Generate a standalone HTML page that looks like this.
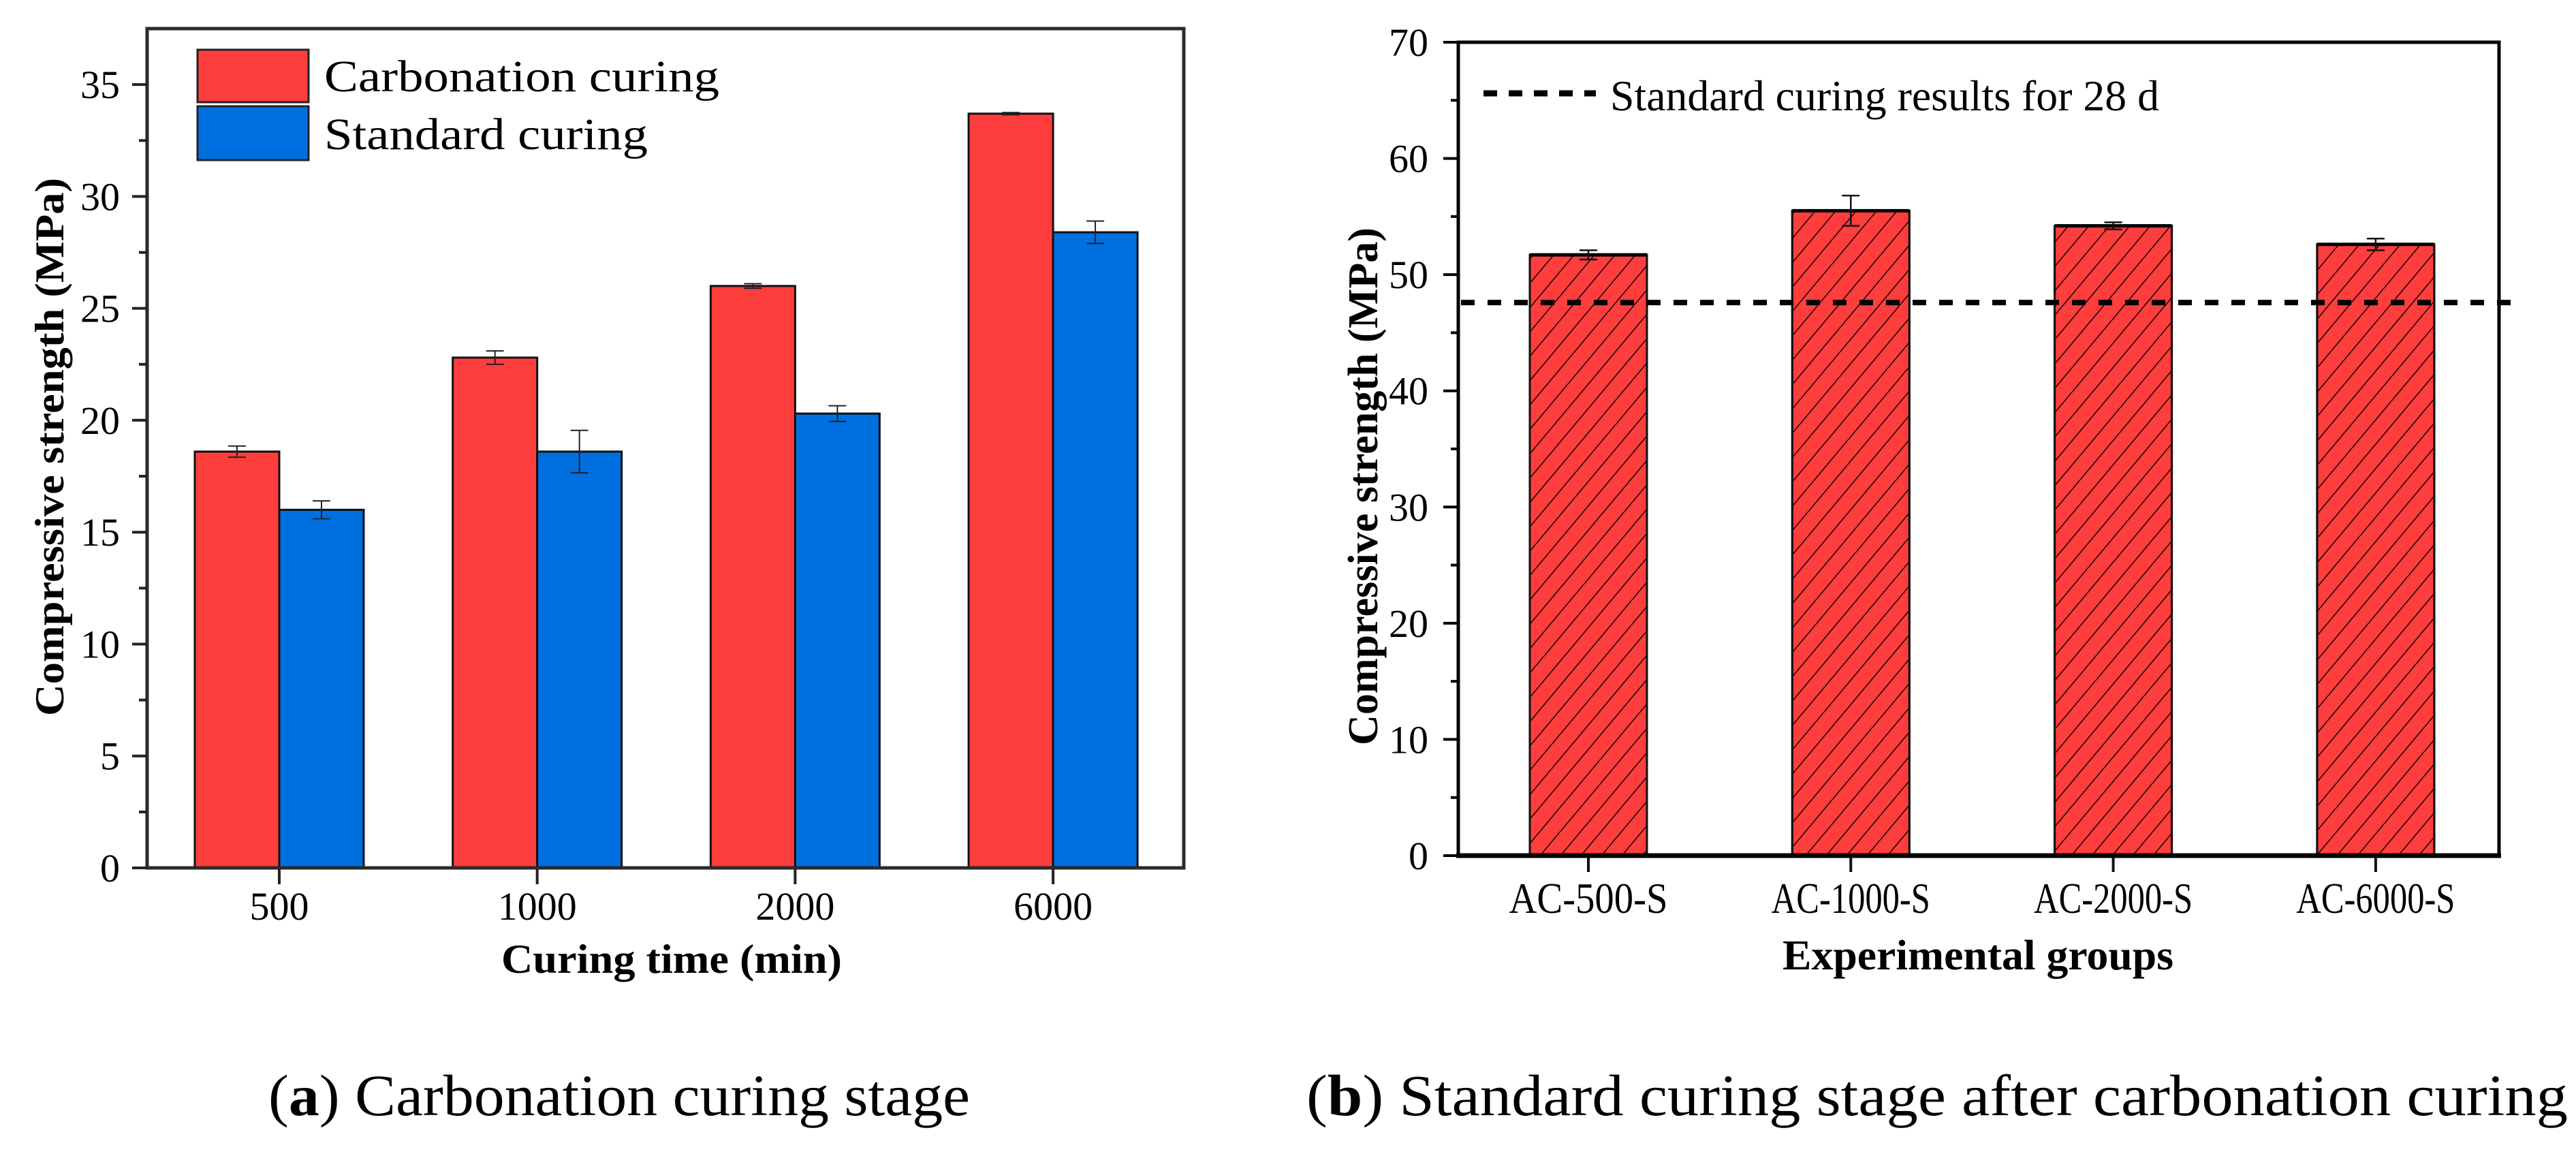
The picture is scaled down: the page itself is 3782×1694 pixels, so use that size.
<!DOCTYPE html>
<html><head><meta charset="utf-8">
<style>
html,body{margin:0;padding:0;background:#fff;}
svg{display:block;font-family:"Liberation Serif","Times New Roman",serif;}
</style></head>
<body>
<svg id="fig" width="3782" height="1694" viewBox="0 0 3782 1694" xmlns="http://www.w3.org/2000/svg">
<defs>
<pattern id="hatch" patternUnits="userSpaceOnUse" width="30" height="60" patternTransform="skewX(-40)">
<line x1="15" y1="0" x2="15" y2="60" stroke="#000" stroke-width="1.8"/>
</pattern>
</defs>
<g id="chartA"></g>
<g id="chartB"></g>
<text x="394" y="1637" font-size="86" textLength="1030" lengthAdjust="spacingAndGlyphs">(<tspan font-weight="bold">a</tspan>) Carbonation curing stage</text>
<text x="1918" y="1637" font-size="86" textLength="1852" lengthAdjust="spacingAndGlyphs">(<tspan font-weight="bold">b</tspan>) Standard curing stage after carbonation curing</text>
</svg>
<script>
// Chart A data
const catsA = ["500", "1000", "2000", "6000"];
const carbVals = [18.6, 22.8, 26.0, 33.7];
const carbErr = [0.25, 0.3, 0.1, 0.05];
const stdVals = [16.0, 18.6, 20.3, 28.4];
const stdErr = [0.4, 0.95, 0.35, 0.5];
const ticksA = [0, 5, 10, 15, 20, 25, 30, 35];
// Chart B data
const catsB = ["AC-500-S", "AC-1000-S", "AC-2000-S", "AC-6000-S"];
const valsB = [51.7, 55.5, 54.2, 52.6];
const errB = [0.4, 1.3, 0.3, 0.5];
const refLineB = [47.6];
const ticksB = [0, 10, 20, 30, 40, 50, 60, 70];

const NS = "http://www.w3.org/2000/svg";
function mk(parent, tag, attrs, text) {
  const e = document.createElementNS(NS, tag);
  for (const k in attrs) e.setAttribute(k, attrs[k]);
  if (text !== undefined) e.textContent = text;
  parent.appendChild(e);
  return e;
}

// ---------- Chart A ----------
(function () {
  const g = document.getElementById("chartA");
  const L = 216, R = 1738, T = 42, B = 1274;
  const ymax = 37.5;
  const y = v => B - v / ymax * (B - T);
  const x = i => 410 + i * 378.7;
  const bw = 124;
  catsA.forEach((c, i) => {
    const r = mk(g, "rect", {x: x(i) - bw, y: y(carbVals[i]), width: bw, height: B - y(carbVals[i]), fill: "#fe3d3d", stroke: "#111", "stroke-width": 3});
    
    
    const b = mk(g, "rect", {x: x(i), y: y(stdVals[i]), width: bw, height: B - y(stdVals[i]), fill: "#0070e0", stroke: "#111", "stroke-width": 3});
    
    
    [[x(i) - bw / 2, carbVals[i], carbErr[i]], [x(i) + bw / 2, stdVals[i], stdErr[i]]].forEach(([cx, v, e]) => {
      const eg = mk(g, "g", {stroke: "#222", "stroke-width": 2});
      
      
      mk(eg, "line", {x1: cx, x2: cx, y1: y(v + e), y2: y(v - e)});
      mk(eg, "line", {x1: cx - 13, x2: cx + 13, y1: y(v + e), y2: y(v + e)});
      mk(eg, "line", {x1: cx - 13, x2: cx + 13, y1: y(v - e), y2: y(v - e)});
    });
    const t = mk(g, "text", {x: x(i), y: 1350, "font-size": 58, "text-anchor": "middle"}, c);
    
    
    mk(g, "line", {x1: x(i), x2: x(i), y1: B, y2: B + 24, stroke: "#222", "stroke-width": 4});
  });
  const f = mk(g, "rect", {x: L, y: T, width: R - L, height: B - T, fill: "none", stroke: "#2a2a2a", "stroke-width": 5});
  
  
  ticksA.forEach(v => {
    mk(g, "line", {x1: L - 22, x2: L, y1: y(v), y2: y(v), stroke: "#222", "stroke-width": 4});
    const t = mk(g, "text", {x: 176, y: y(v) + 20, "font-size": 58, "text-anchor": "end"}, String(v));
    
    
    if (v + 2.5 < ymax) mk(g, "line", {x1: L - 12, x2: L, y1: y(v + 2.5), y2: y(v + 2.5), stroke: "#222", "stroke-width": 4});
  });
  const yt = mk(g, "text", {x: 0, y: 0, "font-size": 60, "font-weight": "bold", "text-anchor": "middle", transform: "translate(93,656) rotate(-90)", textLength: 790, lengthAdjust: "spacingAndGlyphs"}, "Compressive strength (MPa)");
  
  
  const xt = mk(g, "text", {x: 986, y: 1428, "font-size": 60, "font-weight": "bold", "text-anchor": "middle", textLength: 500, lengthAdjust: "spacingAndGlyphs"}, "Curing time (min)");
  
  
  const lg = mk(g, "g", {});
  
  
  mk(lg, "rect", {x: 290, y: 73, width: 163, height: 77, fill: "#fe3d3d", stroke: "#222", "stroke-width": 3});
  mk(lg, "rect", {x: 290, y: 156, width: 163, height: 79, fill: "#0070e0", stroke: "#222", "stroke-width": 3});
  const l1 = mk(lg, "text", {x: 476, y: 134, "font-size": 66, textLength: 580, lengthAdjust: "spacingAndGlyphs"}, "Carbonation curing");
  
  
  const l2 = mk(lg, "text", {x: 476, y: 219, "font-size": 66, textLength: 475, lengthAdjust: "spacingAndGlyphs"}, "Standard curing");
  
  
})();

// ---------- Chart B ----------
(function () {
  const g = document.getElementById("chartB");
  const L = 2141, R = 3669, T = 62, B = 1256;
  const ymax = 70;
  const y = v => B - v / ymax * (B - T);
  const x = i => 2332 + i * 385.3;
  const bw = 172;
  catsB.forEach((c, i) => {
    const r = mk(g, "rect", {x: x(i) - bw / 2, y: y(valsB[i]), width: bw, height: B - y(valsB[i]), fill: "#fe3d3d", stroke: "#111", "stroke-width": 3});
    
    
    const h = mk(g, "rect", {x: x(i) - bw / 2, y: y(valsB[i]), width: bw, height: B - y(valsB[i]), fill: "url(#hatch)", stroke: "#111", "stroke-width": 3});
    
    
    mk(g, "line", {x1: x(i) - bw / 2, x2: x(i) + bw / 2, y1: y(valsB[i]), y2: y(valsB[i]), stroke: "#000", "stroke-width": 5});
    const cx = x(i), v = valsB[i], e = errB[i];
    const eg = mk(g, "g", {stroke: "#111", "stroke-width": 2.5});
    
    
    mk(eg, "line", {x1: cx, x2: cx, y1: y(v + e), y2: y(v - e)});
    mk(eg, "line", {x1: cx - 13, x2: cx + 13, y1: y(v + e), y2: y(v + e)});
    mk(eg, "line", {x1: cx - 13, x2: cx + 13, y1: y(v - e), y2: y(v - e)});
    mk(g, "line", {x1: cx, x2: cx, y1: B, y2: B + 24, stroke: "#111", "stroke-width": 4});
    const t = mk(g, "text", {x: cx, y: 1340, "font-size": 64, "text-anchor": "middle", textLength: 233, lengthAdjust: "spacingAndGlyphs"}, c);
    
    
  });
  const rl = mk(g, "line", {x1: 2145, x2: 3695, y1: y(refLineB[0]), y2: y(refLineB[0]), stroke: "#000", "stroke-width": 8, "stroke-dasharray": "20 19"});
  
  
  const f = mk(g, "rect", {x: L, y: T, width: R - L, height: B - T, fill: "none", stroke: "#000", "stroke-width": 5});
  
  
  mk(g, "line", {x1: L - 3, x2: R + 3, y1: B, y2: B, stroke: "#000", "stroke-width": 7});
  ticksB.forEach(v => {
    mk(g, "line", {x1: L - 22, x2: L, y1: y(v), y2: y(v), stroke: "#000", "stroke-width": 4});
    const t = mk(g, "text", {x: 2097, y: y(v) + 20, "font-size": 58, "text-anchor": "end"}, String(v));
    
    
    if (v + 5 < ymax) mk(g, "line", {x1: L - 11, x2: L, y1: y(v + 5), y2: y(v + 5), stroke: "#000", "stroke-width": 4});
  });
  const yt = mk(g, "text", {x: 0, y: 0, "font-size": 62, "font-weight": "bold", "text-anchor": "middle", transform: "translate(2022,714) rotate(-90)", textLength: 760, lengthAdjust: "spacingAndGlyphs"}, "Compressive strength (MPa)");
  
  
  const xt = mk(g, "text", {x: 2904, y: 1423, "font-size": 62, "font-weight": "bold", "text-anchor": "middle", textLength: 574, lengthAdjust: "spacingAndGlyphs"}, "Experimental groups");
  
  
  const lg = mk(g, "g", {});
  
  
  mk(lg, "line", {x1: 2178, x2: 2343, y1: 137, y2: 137, stroke: "#000", "stroke-width": 9, "stroke-dasharray": "20 17"});
  const lt = mk(lg, "text", {x: 2364, y: 162, "font-size": 64, textLength: 806, lengthAdjust: "spacingAndGlyphs"}, "Standard curing results for 28 d");
  
  
})();
</script>
</body></html>
